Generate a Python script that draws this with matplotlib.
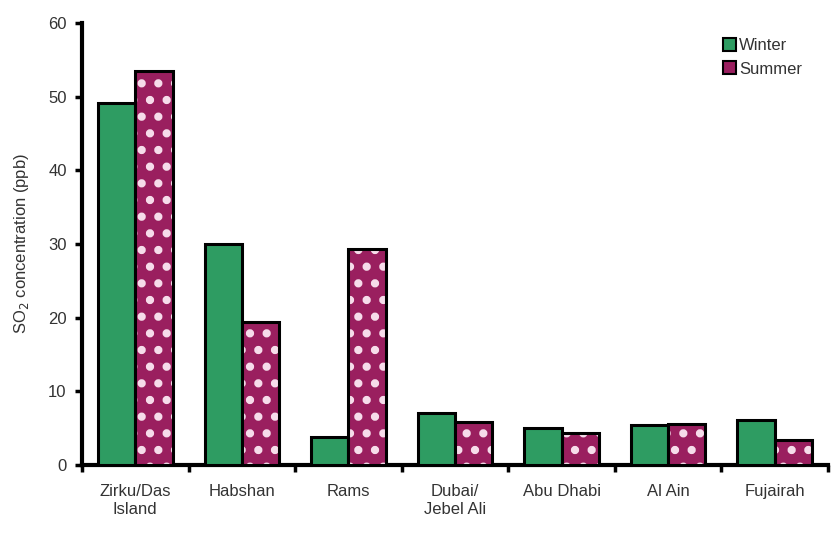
import matplotlib
matplotlib.use("Agg")
import matplotlib.pyplot as plt
import numpy as np
from matplotlib.patches import Patch

plt.rcParams['font.family'] = ['Liberation Sans', 'DejaVu Sans']

categories = ["Zirku/Das\nIsland", "Habshan", "Rams", "Dubai/\nJebel Ali", "Abu Dhabi", "Al Ain", "Fujairah"]
winter = [49.1, 30.0, 3.8, 7.0, 5.0, 5.4, 6.1]
summer = [53.5, 19.4, 29.3, 5.8, 4.3, 5.5, 3.4]
yticks = [0, 10, 20, 30, 40, 50, 60]

green = "#2e9c62"
purple = "#9a1f5f"

fig = plt.figure(figsize=(8.32, 5.38), dpi=100)
ax = fig.add_axes([82/832, 1-465/538, (828-82)/832, (465-23)/538])

x = np.arange(len(categories))
w = 0.35
ax.bar(x - w/2, winter, w, color=green, edgecolor="black", linewidth=2.2, zorder=3)
plt.rcParams['hatch.linewidth'] = 3.5
ax.bar(x + w/2, summer, w, color=purple, edgecolor="#f6dcea", linewidth=0, hatch=".", zorder=3)
ax.bar(x + w/2, summer, w, color="none", edgecolor="black", linewidth=2.2, zorder=4)

handles = [Patch(facecolor=green, edgecolor="black", linewidth=1.5, label="Winter"),
           Patch(facecolor=purple, edgecolor="black", linewidth=1.5, label="Summer")]
ax.legend(handles=handles, loc="upper right", bbox_to_anchor=(0.985, 1.0), frameon=False,
          fontsize=12, handlelength=0.8, handleheight=0.8, handletextpad=0.15, labelspacing=0.5,
          labelcolor="#333333")

ax.set_xlim(-0.5, len(categories) - 0.5)
ax.set_ylim(0, 60)
ax.set_yticks(yticks)
ax.set_yticklabels([str(t) for t in yticks], fontsize=12, color="#333333")
ax.set_xticks(x)
ax.set_xticklabels(categories, fontsize=12, color="#333333")
ax.set_xticks(np.arange(len(categories) + 1) - 0.5, minor=True)
ax.tick_params(axis='x', which='major', length=0, pad=14)
ax.tick_params(axis='x', which='minor', length=5, width=2.5, direction='out')
ax.tick_params(axis='y', length=5, width=2.5, direction='out', pad=6)
for s in ["top", "right"]:
    ax.spines[s].set_visible(False)
for s in ["left", "bottom"]:
    ax.spines[s].set_linewidth(3)
ax.set_ylabel("SO$_2$ concentration (ppb)", fontsize=12, color="#333333", labelpad=12)

fig.savefig("out.png", dpi=100)
